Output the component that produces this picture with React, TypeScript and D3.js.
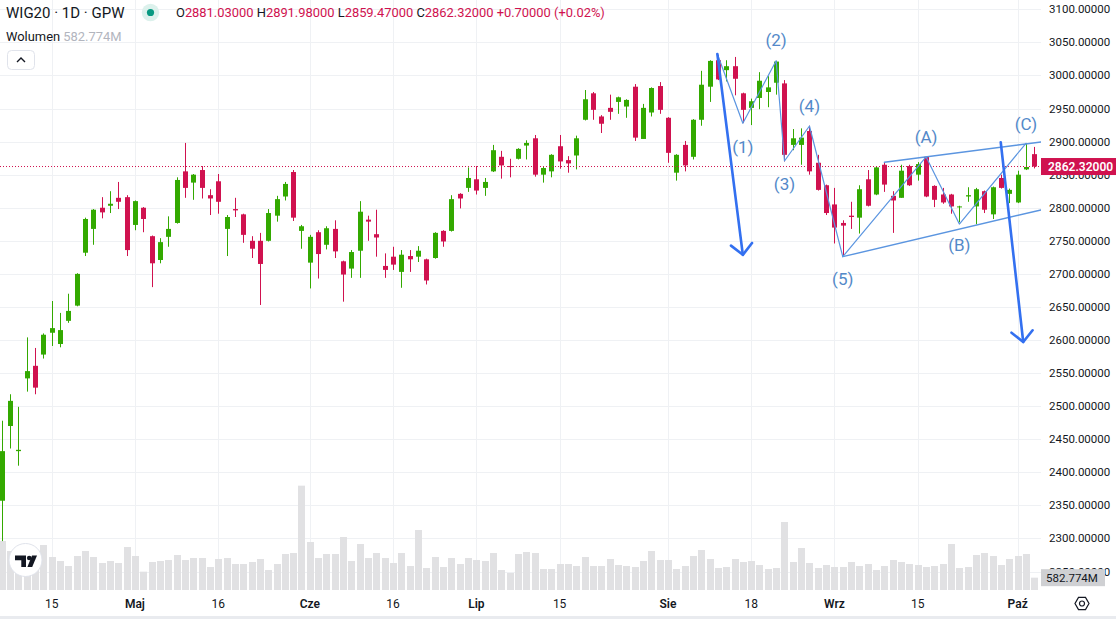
import * as d3 from "d3";

// WIG20 daily candles, 7 Apr – 3 Oct 2025
const OPEN = [
  2357, 2470, 2432, 2542, 2561, 2578, 2611, 2594, 2629, 2652, 2732, 2768, 2800, 2803, 2815, 2816, 2774, 2800, 2757, 2721,
  2756, 2777, 2855, 2838, 2857, 2819, 2840, 2768, 2798, 2790, 2750, 2750, 2750, 2788, 2817, 2854, 2765, 2717, 2763, 2744,
  2768, 2719, 2708, 2735, 2782, 2760, 2712, 2726, 2703, 2727, 2726, 2722, 2724, 2765, 2765, 2821, 2830, 2843, 2830, 2855,
  2877, 2863, 2874, 2894, 2905, 2850, 2855, 2893, 2872, 2879, 2933, 2973, 2938, 2951, 2960, 2953, 2983, 2904, 2944, 2984,
  2936, 2853, 2895, 2877, 2933, 2983, 3023, 3008, 3014, 2973, 2951, 2966, 2975, 2989, 2988, 2895, 2895, 2916, 2868, 2834,
  2805, 2777, 2788, 2785, 2843, 2820, 2865, 2818, 2815, 2863, 2850, 2877, 2833, 2820, 2820, 2801, 2817, 2802, 2825, 2790,
  2845, 2821, 2808, 2858, 2881.03,
];
const HIGH = [
  2478, 2518, 2499, 2604, 2588, 2610, 2659, 2641, 2670, 2701, 2785, 2798, 2816, 2825, 2839, 2819, 2811, 2801, 2758, 2754,
  2787, 2846, 2898, 2851, 2863, 2828, 2851, 2789, 2815, 2791, 2757, 2762, 2798, 2818, 2839, 2857, 2774, 2759, 2766, 2772,
  2781, 2720, 2736, 2810, 2788, 2797, 2731, 2741, 2736, 2736, 2742, 2723, 2763, 2766, 2819, 2822, 2861, 2863, 2845, 2895,
  2886, 2874, 2890, 2902, 2910, 2863, 2881, 2910, 2878, 2909, 2978, 2975, 2940, 2971, 2968, 2964, 2987, 2957, 2982, 2990,
  2937, 2881, 2901, 2934, 3007, 3023, 3031, 3023, 3028, 2974, 2965, 3005, 2999, 3022, 2993, 2919, 2920, 2924, 2880, 2835,
  2830, 2781, 2809, 2834, 2857, 2863, 2869, 2825, 2865, 2865, 2869, 2877, 2834, 2830, 2821, 2803, 2831, 2830, 2826, 2832,
  2850, 2829, 2856, 2897, 2891.98,
];
const LOW = [
  2296, 2436, 2410, 2522, 2518, 2572, 2591, 2589, 2626, 2651, 2727, 2744, 2784, 2792, 2798, 2727, 2766, 2763, 2680, 2716,
  2741, 2776, 2815, 2812, 2814, 2789, 2791, 2727, 2786, 2747, 2724, 2653, 2749, 2779, 2811, 2780, 2738, 2678, 2693, 2737,
  2724, 2658, 2694, 2694, 2750, 2726, 2694, 2706, 2679, 2703, 2718, 2684, 2723, 2741, 2764, 2799, 2824, 2820, 2818, 2854,
  2844, 2846, 2873, 2873, 2847, 2838, 2846, 2859, 2853, 2858, 2932, 2933, 2913, 2933, 2942, 2936, 2901, 2904, 2938, 2942,
  2868, 2841, 2855, 2873, 2924, 2960, 2993, 2991, 2970, 2928, 2925, 2949, 2952, 2971, 2870, 2887, 2865, 2850, 2826, 2789,
  2746, 2726, 2768, 2761, 2802, 2819, 2824, 2762, 2815, 2833, 2841, 2816, 2801, 2806, 2791, 2778, 2809, 2775, 2792, 2783,
  2829, 2807, 2807, 2857, 2859.47,
];
const CLOSE = [
  2432, 2508, 2434, 2553, 2528, 2608, 2618, 2615, 2644, 2700, 2783, 2797, 2793, 2806, 2809, 2736, 2810, 2783, 2716, 2748,
  2768, 2842, 2830, 2850, 2830, 2814, 2809, 2786, 2796, 2759, 2738, 2715, 2792, 2813, 2836, 2785, 2772, 2756, 2730, 2769,
  2734, 2699, 2733, 2794, 2779, 2755, 2706, 2714, 2729, 2722, 2735, 2690, 2762, 2749, 2813, 2814, 2845, 2826, 2839, 2887,
  2864, 2862, 2889, 2898, 2850, 2860, 2880, 2870, 2867, 2905, 2964, 2948, 2927, 2945, 2967, 2963, 2906, 2951, 2981, 2948,
  2883, 2880, 2864, 2933, 2986, 3022, 2994, 3014, 2995, 2948, 2961, 2992, 2982, 3021, 2880, 2905, 2906, 2855, 2827, 2792,
  2770, 2773, 2786, 2828, 2803, 2861, 2835, 2811, 2856, 2834, 2866, 2817, 2812, 2808, 2802, 2802, 2819, 2828, 2797, 2831,
  2830, 2827, 2850, 2861.62, 2862.32,
];
// volume in millions
const VOLUME = [
  2316, 1844, 1650, 1730, 1580, 2127, 1560, 1371, 1134, 1607, 1844, 1560, 1276, 1371, 1276, 2033, 1607, 867, 1324, 1371,
  1418, 1654, 1418, 1513, 1513, 1087, 1465, 1513, 1229, 1229, 1324, 1465, 945, 1229, 1702, 1749, 4932, 2269, 1513, 1702,
  1702, 2505, 1371, 2174, 1513, 1749, 1513, 1276, 1749, 1134, 2836, 1040, 1560, 1087, 1513, 1229, 1513, 1418, 1371, 1749,
  945, 804, 1702, 1796, 1749, 993, 993, 1229, 1229, 1134, 1560, 1134, 1134, 1465, 1182, 1134, 1087, 1371, 1844, 1418,
  1418, 993, 1134, 1607, 1891, 1465, 1040, 1087, 1465, 1324, 1371, 1182, 993, 1040, 3214, 1324, 1985, 1276, 1040, 1182,
  1087, 1087, 1324, 1134, 1229, 945, 1134, 1418, 1324, 1229, 1182, 1087, 1134, 1229, 2174, 1040, 1087, 1654, 1749, 1607,
  1182, 1465, 1607, 1702, 582.774,
];

const TIME_TICK_IDX = [6, 16, 26, 37, 47, 57, 67, 80, 90, 100, 110, 122];
const TIME_TICK_LABELS = ["15", "Maj", "16", "Cze", "16", "Lip", "15", "Sie", "18", "Wrz", "15", "Paź"];
const MONTH_LABELS = ["Maj", "Cze", "Lip", "Sie", "Wrz", "Paź"];
const PRICE_TICKS = d3.range(2250, 3101, 50);

// Elliott-wave drawing, anchored at [bar index, price]
const WAVE_IDX = [85.94, 89, 93, 94, 97, 101, 111, 115, 123];
const WAVE_PRICE = [3032.5, 2927.7, 3022.3, 2870.7, 2923.6, 2726, 2877, 2775.3, 2897.4];
const WAVE_LABELS = ["(1)", "(2)", "(3)", "(4)", "(5)", "(A)", "(B)", "(C)"];
const LABEL_IDX = [89, 93, 94, 97, 101, 111, 115, 123];
const LABEL_PRICE = [2892.6, 3053.6, 2835.9, 2953.9, 2692.3, 2907.4, 2743.7, 2926.6];
const CHANNEL_UPPER: [number, number][] = [[106, 2868.7], [124.8, 2899.4]];
const CHANNEL_LOWER: [number, number][] = [[101, 2726], [124.8, 2796.7]];
const ARROWS: [number, number][][] = [
  [[85.94, 3032.5], [89, 2728.8]],
  [[119.97, 2899], [122.67, 2597]],
];

const LAST = { o: 2881.03, h: 2891.98, l: 2859.47, c: 2862.32, chg: 0.7, pct: 0.02 };

const W = 1116;
const H = 619;
const PLOT_R = 1041;
const AXIS_Y = 590;
const UP = "#33a900";
const DOWN = "#d0124f";
const TEXT = "#131722";
const GRID = "#eff1f4";
const FONT = "Roboto, 'Noto Sans', sans-serif";
const WAVE = "#5b95e0";
const ARROW = "#3370f0";
const LABEL = "#5389c9";

const f5 = (v: number) => v.toFixed(5);

export default function App() {
  const x = d3.scaleLinear().domain([0, 124]).range([1.7, 1034.3]);
  const y = d3.scaleLinear().domain([2400, 2900]).range([472.3, 141.6]);
  const vy = d3.scaleLinear().domain([0, 5000]).range([AXIS_Y, AXIS_Y - 5000 / 47.27]);
  const line = d3
    .line<[number, number]>()
    .x((d) => x(d[0]))
    .y((d) => y(d[1]));

  const wavePts: [number, number][] = WAVE_IDX.map((d, i) => [d, WAVE_PRICE[i]]);

  const arrowHead = (p: [number, number][]) => {
    const x0 = x(p[0][0]), y0 = y(p[0][1]);
    const x1 = x(p[1][0]), y1 = y(p[1][1]);
    const len = Math.hypot(x1 - x0, y1 - y0);
    const ux = (x0 - x1) / len, uy = (y0 - y1) / len;
    const a = Math.PI / 4, L = 15;
    const rot = (s: number) => [
      x1 + L * (ux * Math.cos(s * a) - uy * Math.sin(s * a)),
      y1 + L * (ux * Math.sin(s * a) + uy * Math.cos(s * a)),
    ];
    const [lx, ly] = rot(1);
    const [rx, ry] = rot(-1);
    return `M${lx},${ly}L${x1},${y1}L${rx},${ry}`;
  };

  const lastY = y(LAST.c);
  const lastVol = VOLUME[VOLUME.length - 1];

  return (
    <svg
      width={W}
      height={H}
      style={{ position: "fixed", left: 0, top: 0, background: "#fff", fontFamily: FONT }}
    >
      <defs>
        <clipPath id="plot">
          <rect x={0} y={0} width={PLOT_R} height={AXIS_Y} />
        </clipPath>
      </defs>
      <rect width={W} height={H} fill="#fff" />

      {/* grid */}
      <g stroke={GRID} strokeWidth={1}>
        {PRICE_TICKS.map((t) => (
          <line key={t} x1={0} x2={PLOT_R} y1={Math.round(y(t)) + 0.5} y2={Math.round(y(t)) + 0.5} />
        ))}
        {TIME_TICK_IDX.map((t) => (
          <line key={t} x1={Math.round(x(t)) + 0.5} x2={Math.round(x(t)) + 0.5} y1={0} y2={AXIS_Y} />
        ))}
      </g>

      <g clipPath="url(#plot)">
        {/* volume */}
        {VOLUME.map((v, i) => {
          const cx = Math.round(x(i)) + 0.5;
          return <rect key={i} x={cx - 3.5} y={vy(v)} width={7} height={AXIS_Y - vy(v)} fill="#e1e1e3" />;
        })}

        {/* candles */}
        {OPEN.map((o, i) => {
          const c = CLOSE[i];
          const col = c >= o ? UP : DOWN;
          const cx = Math.round(x(i));
          const top = y(Math.max(o, c));
          const h = Math.max(1, y(Math.min(o, c)) - top);
          return (
            <g key={i} fill={col}>
              <rect x={cx} y={y(HIGH[i])} width={1} height={y(LOW[i]) - y(HIGH[i])} />
              <rect x={cx - 2} y={top} width={5} height={h} />
            </g>
          );
        })}

        {/* last price line */}
        <line x1={0} x2={PLOT_R} y1={lastY} y2={lastY} stroke={DOWN} strokeWidth={1} strokeDasharray="1 2" />

        {/* drawings */}
        <g fill="none" strokeLinecap="round" strokeLinejoin="round">
          <path d={line(wavePts) ?? ""} stroke={WAVE} strokeWidth={1.2} />
          <path d={line(CHANNEL_UPPER) ?? ""} stroke={WAVE} strokeWidth={1.4} />
          <path d={line(CHANNEL_LOWER) ?? ""} stroke={WAVE} strokeWidth={1.4} />
          {ARROWS.map((a, i) => (
            <g key={i} stroke={ARROW} strokeWidth={2.6}>
              <path d={line(a) ?? ""} />
              <path d={arrowHead(a)} />
            </g>
          ))}
        </g>
        {WAVE_LABELS.map((t, i) => (
          <text
            key={t}
            x={x(LABEL_IDX[i])}
            y={y(LABEL_PRICE[i])}
            dy="0.36em"
            textAnchor="middle"
            fontSize={17}
            fill={LABEL}
          >
            {t}
          </text>
        ))}
      </g>

      {/* TradingView badge */}
      <g>
        <circle cx={25.5} cy={560} r={16.5} fill="#fff" stroke="#e0e3eb" />
        <path d="M15,555.5H26V567H21.3V560.2H15Z" fill={TEXT} />
        <circle cx={29.2} cy={558} r={2.3} fill={TEXT} />
        <path d="M32,555.5H37L32.2,567H27.4Z" fill={TEXT} />
      </g>

      {/* price axis */}
      <g fontSize={11.5} fill={TEXT}>
        {PRICE_TICKS.map((t) => (
          <text key={t} x={1049} y={y(t)} dy="0.35em">
            {f5(t)}
          </text>
        ))}
      </g>
      <rect x={PLOT_R} y={lastY - 8.5} width={W - PLOT_R} height={17} fill={DOWN} />
      <text x={1048} y={lastY} dy="0.36em" fontSize={12} fontWeight={600} fill="#fff">
        {f5(LAST.c)}
      </text>
      <rect x={PLOT_R} y={vy(lastVol) - 8.5} width={64} height={17} fill="#cfd0d3" />
      <text x={1046} y={vy(lastVol)} dy="0.36em" fontSize={11.5} fill={TEXT}>
        {lastVol.toFixed(3)}M
      </text>

      {/* time axis */}
      <g fontSize={12} fill={TEXT} textAnchor="middle">
        {TIME_TICK_IDX.map((t, i) => (
          <text
            key={t}
            x={x(t)}
            y={604}
            dy="0.35em"
            fontWeight={MONTH_LABELS.includes(TIME_TICK_LABELS[i]) ? 600 : 400}
          >
            {TIME_TICK_LABELS[i]}
          </text>
        ))}
      </g>
      <g transform="translate(1082,603.5)" fill="none" stroke={TEXT} strokeWidth={1.2}>
        <path d={d3.range(6).map((k) => `${k ? "L" : "M"}${7 * Math.cos((k * Math.PI) / 3)},${7 * Math.sin((k * Math.PI) / 3)}`).join("") + "Z"} />
        <circle r={2.5} />
      </g>
      <rect x={0} y={616} width={W} height={3} fill="#e9ebef" />

      {/* legend */}
      <text x={6} y={17.5} fontSize={15} fill={TEXT}>
        WIG20 · 1D · GPW
      </text>
      <circle cx={150.5} cy={12.5} r={8.7} fill="#dcf1ec" />
      <circle cx={150.5} cy={12.5} r={3.6} fill="#089981" />
      <text x={176} y={17} fontSize={12.9} fill={DOWN}>
        <tspan fill={TEXT}>O</tspan>
        <tspan>{f5(LAST.o)}</tspan>
        <tspan fill={TEXT}> H</tspan>
        <tspan>{f5(LAST.h)}</tspan>
        <tspan fill={TEXT}> L</tspan>
        <tspan>{f5(LAST.l)}</tspan>
        <tspan fill={TEXT}> C</tspan>
        <tspan>{f5(LAST.c)}</tspan>
        <tspan> +{f5(LAST.chg)} (+{LAST.pct.toFixed(2)}%)</tspan>
      </text>
      <text x={6} y={40.5} fontSize={12.9} fill={TEXT}>
        Wolumen
        <tspan fill="#b2b5be"> {lastVol.toFixed(3)}M</tspan>
      </text>
      <rect x={7.5} y={50.5} width={27} height={19} rx={4} fill="#fff" stroke="#e0e3eb" />
      <path d="M17,62L21,58L25,62" fill="none" stroke={TEXT} strokeWidth={1.4} />
    </svg>
  );
}
